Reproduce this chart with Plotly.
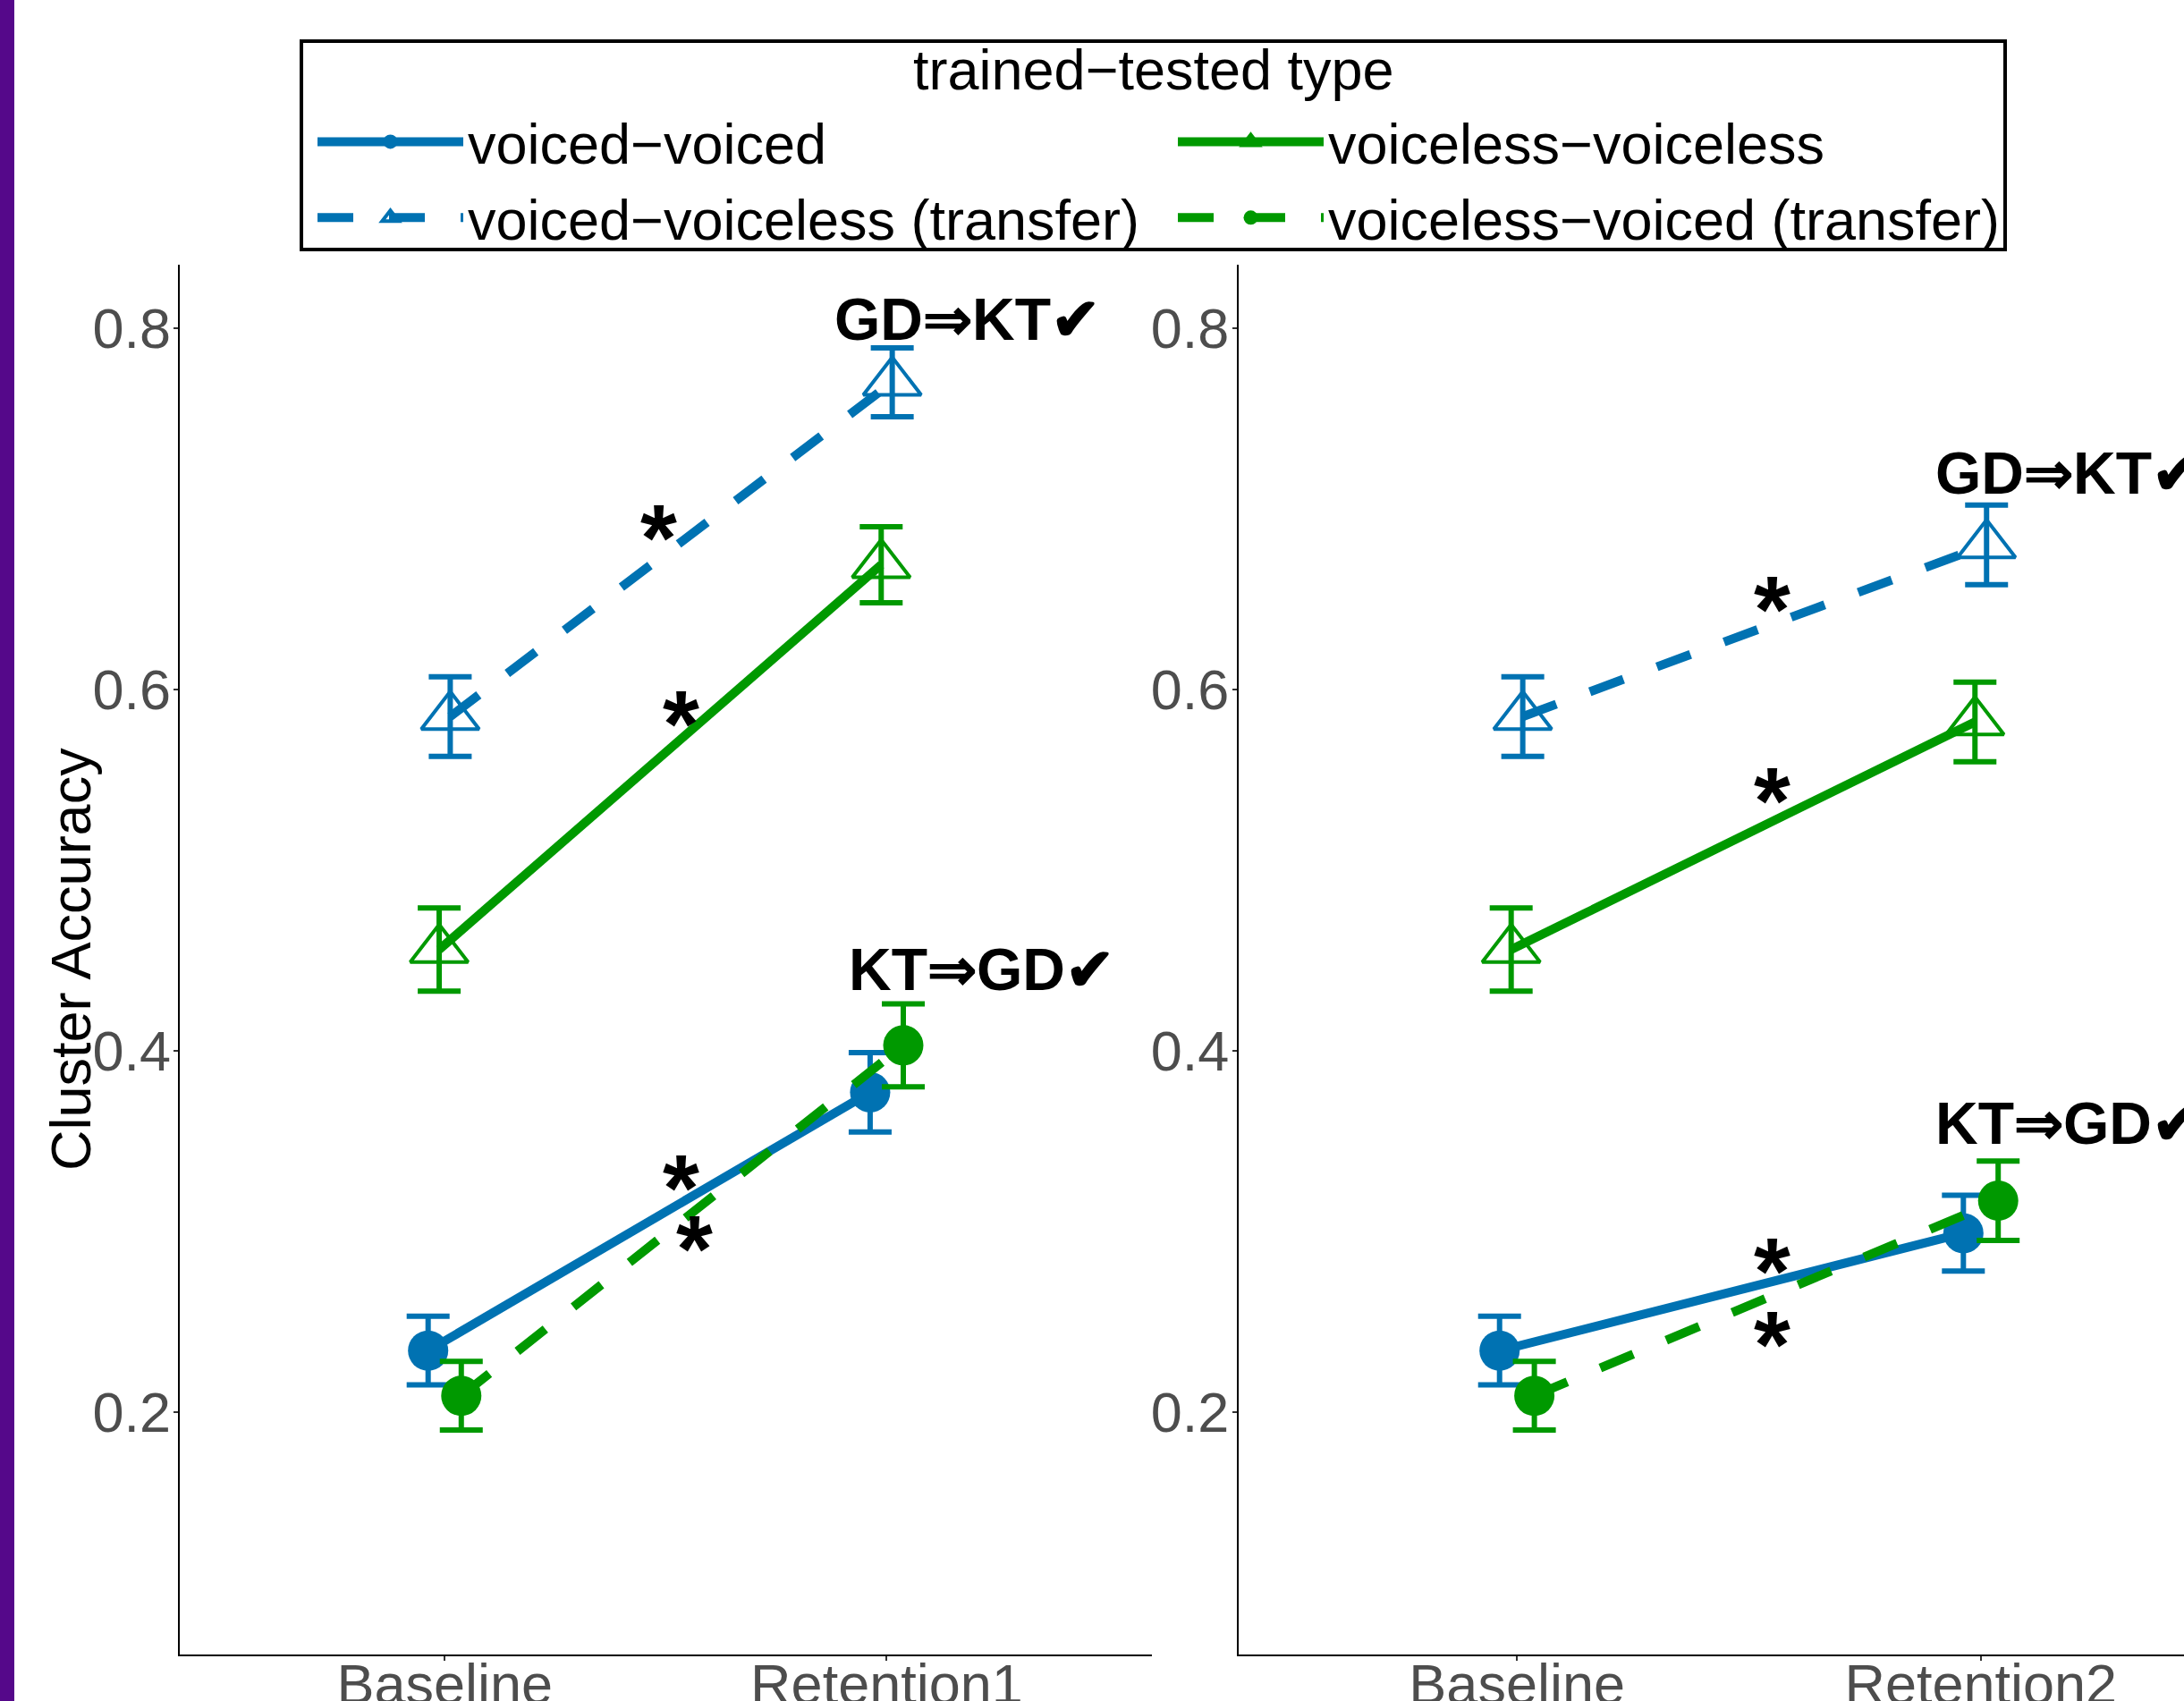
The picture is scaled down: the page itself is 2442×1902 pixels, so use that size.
import plotly.graph_objects as go

# ---------------- data ----------------
categories_left = ["Baseline", "Retention1"]
categories_right = ["Baseline", "Retention2"]

series_names = [
    "voiced−voiced",
    "voiceless−voiceless",
    "voiced−voiceless (transfer)",
    "voiceless−voiced (transfer)",
]
legend_title = "trained−tested type"
y_title = "Cluster Accuracy"

# panel 1 (Baseline, Retention1)
vv_left = [0.234, 0.377]
vv_left_se = [0.019, 0.022]
vlvl_left = [0.456, 0.669]
vlvl_left_se = [0.023, 0.021]
vvl_left = [0.585, 0.770]
vvl_left_se = [0.022, 0.019]
vlv_left = [0.209, 0.403]
vlv_left_se = [0.019, 0.023]

# panel 2 (Baseline, Retention2)
vv_right = [0.234, 0.299]
vv_right_se = [0.019, 0.021]
vlvl_right = [0.456, 0.582]
vlvl_right_se = [0.023, 0.022]
vvl_right = [0.585, 0.680]
vvl_right_se = [0.022, 0.022]
vlv_right = [0.209, 0.317]
vlv_right_se = [0.019, 0.022]

# annotations
label_text = ["GD⇒KT✔", "KT⇒GD✔", "GD⇒KT✔", "KT⇒GD✔"]
label_panel = [1, 1, 2, 2]
label_x = [1.877, 1.910, 1.899, 1.899]
label_y = [0.805, 0.445, 0.720, 0.360]

star_panel = [1, 1, 1, 1, 2, 2, 2, 2]
star_x = [1.484, 1.535, 1.534, 1.566, 1.55, 1.55, 1.55, 1.55]
star_y = [0.692, 0.589, 0.332, 0.298, 0.652, 0.546, 0.286, 0.2455]

# ---------------- styles ----------------
BLUE = "#0072B2"
GREEN = "#009900"
FONT = "Liberation Sans, Arial, Helvetica, sans-serif"
DASH = "40px,40px"

styles = [
    dict(color=BLUE, dash="solid", symbol="circle", offset=-0.0375),
    dict(color=GREEN, dash="solid", symbol="triangle-up-open", offset=-0.0125),
    dict(color=BLUE, dash=DASH, symbol="triangle-up-open", offset=0.0125),
    dict(color=GREEN, dash=DASH, symbol="circle", offset=0.0375),
]

left_vals = [vv_left, vlvl_left, vvl_left, vlv_left]
left_se = [vv_left_se, vlvl_left_se, vvl_left_se, vlv_left_se]
right_vals = [vv_right, vlvl_right, vvl_right, vlv_right]
right_se = [vv_right_se, vlvl_right_se, vvl_right_se, vlv_right_se]

fig = go.Figure()


def add_series(vals, ses, xa, ya, show):
    for i, (name, st) in enumerate(zip(series_names, styles)):
        xs = [k + 1 + st["offset"] for k in range(len(vals[i]))]
        is_open = st["symbol"].endswith("open")
        fig.add_trace(go.Scatter(
            x=xs, y=vals[i], name=name, mode="lines+markers",
            xaxis=xa, yaxis=ya, showlegend=show, legendgroup=name,
            line=dict(color=st["color"], width=10, dash=st["dash"]),
            marker=dict(symbol=st["symbol"], color=st["color"],
                        size=56 if is_open else 45,
                        line=dict(color=st["color"], width=4 if is_open else 0)),
            error_y=dict(type="data", array=ses[i], visible=True,
                         color=st["color"], thickness=6, width=24),
        ))


add_series(left_vals, left_se, "x", "y", True)
add_series(right_vals, right_se, "x2", "y2", False)

W, H = 2442, 1902
yr = [0.0658, 0.8351]
xdom1 = [200.7 / W, 1288 / W]
xdom2 = [1385 / W, 1.0]
ydom = [1 - 1850 / H, 1 - 296 / H]

annotations = []
for t, p, x, y in zip(label_text, label_panel, label_x, label_y):
    annotations.append(dict(
        text="<b>" + t + "</b>", x=x, y=y,
        xref="x" if p == 1 else "x2", yref="y" if p == 1 else "y2",
        xanchor="left", yanchor="middle", showarrow=False,
        font=dict(family=FONT, size=66, color="black"),
    ))
for p, x, y in zip(star_panel, star_x, star_y):
    annotations.append(dict(
        text="<b>*</b>", x=x, y=y,
        xref="x" if p == 1 else "x2", yref="y" if p == 1 else "y2",
        xanchor="center", yanchor="middle", yshift=-16, showarrow=False,
        font=dict(family=FONT, size=105, color="black"),
    ))
# y-axis title
annotations.append(dict(
    text=y_title, x=79 / W, y=(ydom[0] + ydom[1]) / 2, xref="paper", yref="paper",
    xanchor="center", yanchor="middle", textangle=-90, showarrow=False,
    font=dict(family=FONT, size=63, color="black"),
))
# legend title
annotations.append(dict(
    text=legend_title, x=1290 / W, y=1 - 78 / H, xref="paper", yref="paper",
    xanchor="center", yanchor="middle", showarrow=False,
    font=dict(family=FONT, size=63, color="black"),
))

axis_common = dict(
    showline=True, linecolor="black", linewidth=2,
    ticks="outside", ticklen=5, tickwidth=1.5, tickcolor="#333333",
    showgrid=False, zeroline=False,
    tickfont=dict(family=FONT, size=63, color="#4D4D4D"),
)

fig.update_layout(
    width=W, height=H,
    margin=dict(l=0, r=0, t=0, b=0, autoexpand=False),
    paper_bgcolor="white", plot_bgcolor="white",
    font=dict(family=FONT, color="black"),
    xaxis=dict(domain=xdom1, range=[0.4, 2.6], tickvals=[1, 2],
               ticktext=categories_left, anchor="y", ticklabelstandoff=-28,
               **axis_common),
    xaxis2=dict(domain=xdom2, range=[0.4, 0.4 + (W - 1385) / 518.6],
                tickvals=[1, 2], ticktext=categories_right, anchor="y2",
                ticklabelstandoff=-28, **axis_common),
    yaxis=dict(domain=ydom, range=yr, tickvals=[0.2, 0.4, 0.6, 0.8],
               ticktext=["0.2", "0.4", "0.6", "0.8"], anchor="x",
               ticklabelstandoff=-10, **axis_common),
    yaxis2=dict(domain=ydom, range=yr, tickvals=[0.2, 0.4, 0.6, 0.8],
                ticktext=["0.2", "0.4", "0.6", "0.8"], anchor="x2",
                matches="y", ticklabelstandoff=-9, **axis_common),
    legend=dict(
        orientation="h", x=350 / W, xanchor="left", y=1 - 111 / H, yanchor="top",
        borderwidth=0, bgcolor="rgba(0,0,0,0)",
        font=dict(family=FONT, size=63, color="black"),
        entrywidth=784, itemwidth=163, traceorder="normal",
    ),
    annotations=annotations,
    shapes=[
        dict(type="rect", xref="paper", yref="paper", x0=0, x1=16 / W,
             y0=0, y1=1, fillcolor="#55088A", line=dict(width=0), layer="above"),
        dict(type="rect", xref="paper", yref="paper", x0=337 / W, x1=2242 / W,
             y0=1 - 279 / H, y1=1 - 46 / H, fillcolor="rgba(0,0,0,0)",
             line=dict(color="black", width=4), layer="above"),
    ],
)

fig.write_html("out.html", config={"displayModeBar": False},
               post_script="document.body.style.margin='0';document.body.style.overflow='hidden';")
